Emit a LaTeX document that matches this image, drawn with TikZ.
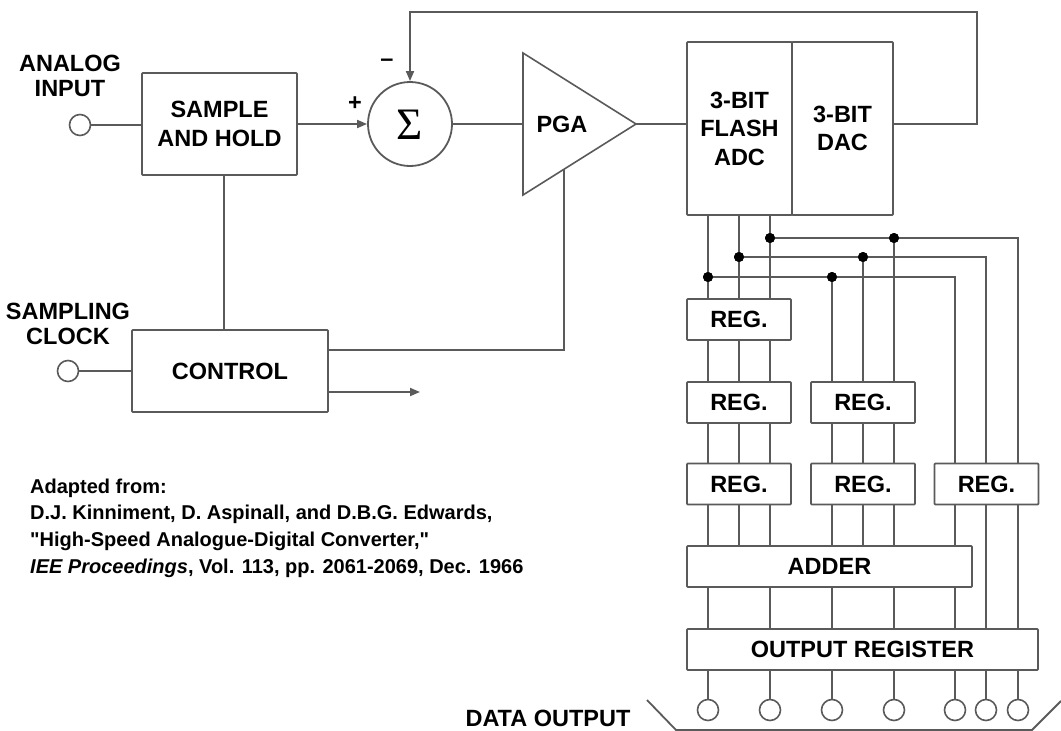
\documentclass[tikz,border=0pt]{standalone}
\usepackage{fontspec}
\setmainfont{Liberation Sans}
\newfontfamily\sigmafont{Liberation Serif}
\usetikzlibrary{arrows.meta}
\definecolor{wirec}{RGB}{90,90,90}
\newcommand\lblfont{\fontsize{23.5}{28.5}\selectfont\bfseries}
\newcommand\citefont{\fontsize{20}{26.7}\selectfont\bfseries}
\begin{document}
\begin{tikzpicture}[x=1pt,y=-1pt,
  wire/.style={draw=wirec, line width=1.8pt},
  blk/.style={draw=wirec, line width=1.8pt, fill=white, font=\lblfont, align=center, inner sep=0pt, rounded corners=0.8pt},
  lab/.style={font=\lblfont, align=center, inner sep=0pt},
  term/.style={circle, draw=wirec, line width=1.6pt, fill=white, minimum size=21pt, inner sep=0pt},
  jdot/.style={circle, fill=black, minimum size=10pt, inner sep=0pt},
  arr/.style={-{Triangle[length=10pt,width=8pt]}}
]
\useasboundingbox (0,0) rectangle (1061,731);

% ---------- analog path ----------
\node[lab] (ailab) at (70,76) {ANALOG\\[-3pt]INPUT};
\node[term] (aic) at (80,125) {};
\node[blk, minimum width=155pt, minimum height=102pt] (sh) at (219.5,124) {SAMPLE\\AND HOLD};
\node[circle, draw=wirec, line width=1.8pt, minimum size=84pt, inner sep=0pt] (sum) at (410,124) {};
\node[font=\sigmafont\fontsize{45}{45}\selectfont, inner sep=0pt] (sig) at (410,125) {Σ};
\node[lab] (plus) at (355,104) {+};
\node[lab] (minus) at (387,63) {–};

\coordinate (pgaT) at (523,53);
\coordinate (pgaB) at (523,195);
\coordinate (pgaA) at (636,124);
\coordinate (pgaI) at (523,124);
\coordinate (pgaC) at (564,169.2);
\draw[wire, fill=white, line width=1.6pt, line join=miter] (pgaT) -- (pgaA) -- (pgaB) -- cycle;
\node[lab] (pga) at (562,124) {PGA};

\node[blk, minimum width=105pt, minimum height=173pt] (adc) at (739.5,128.5) {3-BIT\\FLASH\\ADC};
\node[blk, minimum width=101pt, minimum height=173pt] (dac) at (842.5,128.5) {3-BIT\\DAC};

\draw[wire] (aic) -- (sh.west |- aic);
\draw[wire, arr] (sh.east |- sum) -- (sum.west);
\draw[wire] (sum.east) -- (pgaI);
\draw[wire] (pgaA) -- (adc.west |- pgaA);
\coordinate (fbR) at (977,12);
\draw[wire, arr] (dac.east |- pgaA) -- (fbR |- pgaA) -- (fbR) -- (sum.north |- fbR) -- (sum.north);

% ---------- control ----------
\node[lab] (sclab) at (68,324) {SAMPLING\\[-3pt]CLOCK};
\node[blk, minimum width=196pt, minimum height=82pt] (ctl) at (230,371) {CONTROL};
\node[term] (scc) at (68,371) {};
\draw[wire] (scc) -- (ctl.west |- scc);
\coordinate (shx) at (224,0);
\draw[wire] (sh.south -| shx) -- (ctl.north -| shx);
\coordinate (ctlL) at (0,350);
\draw[wire] (ctl.east |- ctlL) -- (pgaC |- ctlL) -- (pgaC);
\coordinate (ctlO) at (420,392);
\draw[wire, arr] (ctl.east |- ctlO) -- (ctlO);

% ---------- citation ----------
\node[font=\citefont, align=left, anchor=west, inner sep=0pt] (cite) at (30,528)
 {Adapted from:\\D.J. Kinniment, D. Aspinall, and D.B.G. Edwards,\\\textquotedbl High-Speed Analogue-Digital Converter,\textquotedbl\\\textit{IEE Proceedings}, Vol. 113, pp. 2061-2069, Dec. 1966};

% ---------- digital section ----------
\coordinate (xa1) at (708,0); \coordinate (xa2) at (739,0); \coordinate (xa3) at (770,0);
\coordinate (xb1) at (832,0); \coordinate (xb2) at (863,0); \coordinate (xb3) at (894,0);
\coordinate (xc1) at (955,0); \coordinate (xc2) at (986,0); \coordinate (xc3) at (1018,0);

\node[blk, minimum width=104pt, minimum height=41pt] (ra1) at (739,319.5) {REG.};
\node[blk, minimum width=104pt, minimum height=41pt] (ra2) at (739,402.5) {REG.};
\node[blk, minimum width=104pt, minimum height=41pt] (rb2) at (863,402.5) {REG.};
\node[blk, minimum width=104pt, minimum height=41pt] (ra3) at (739,484) {REG.};
\node[blk, minimum width=104pt, minimum height=41pt] (rb3) at (863,484) {REG.};
\node[blk, minimum width=104pt, minimum height=41pt] (rc3) at (986.5,484) {REG.};
\node[blk, minimum width=285pt, minimum height=41pt] (add) at (829.5,566.5) {ADDER};
\node[blk, minimum width=351pt, minimum height=41pt] (outr) at (862.5,649.5) {OUTPUT REGISTER};

% junction rows
\coordinate (y1) at (0,238); \coordinate (y2) at (0,257); \coordinate (y3) at (0,277);
\node[jdot] (d1a) at (xa3 |- y1) {};
\node[jdot] (d1b) at (xb3 |- y1) {};
\node[jdot] (d2a) at (xa2 |- y2) {};
\node[jdot] (d2b) at (xb2 |- y2) {};
\node[jdot] (d3a) at (xa1 |- y3) {};
\node[jdot] (d3b) at (xb1 |- y3) {};

\foreach \c in {xa1,xa2,xa3}{
  \draw[wire] (adc.south -| \c) -- (ra1.north -| \c);
  \draw[wire] (ra1.south -| \c) -- (ra2.north -| \c);
  \draw[wire] (ra2.south -| \c) -- (ra3.north -| \c);
  \draw[wire] (ra3.south -| \c) -- (add.north -| \c);
}
\foreach \c in {xb1,xb2,xb3}{
  \draw[wire] (rb2.south -| \c) -- (rb3.north -| \c);
  \draw[wire] (rb3.south -| \c) -- (add.north -| \c);
}
\draw[wire] (d1a.center) -- (xc3 |- y1) -- (rc3.north -| xc3);
\draw[wire] (d2a.center) -- (xc2 |- y2) -- (rc3.north -| xc2);
\draw[wire] (d3a.center) -- (xc1 |- y3) -- (rc3.north -| xc1);
\draw[wire] (d1b.center) -- (rb2.north -| xb3);
\draw[wire] (d2b.center) -- (rb2.north -| xb2);
\draw[wire] (d3b.center) -- (rb2.north -| xb1);
\draw[wire] (rc3.south -| xc1) -- (add.north -| xc1);
\draw[wire] (rc3.south -| xc2) -- (outr.north -| xc2);
\draw[wire] (rc3.south -| xc3) -- (outr.north -| xc3);
\foreach \c in {xa1,xa3,xb1,xb3,xc1}{
  \draw[wire] (add.south -| \c) -- (outr.north -| \c);
}
% dots on top of the wires
\foreach \d in {d1a,d1b,d2a,d2b,d3a,d3b}{ \fill (\d.center) circle (5pt); }

% output terminals
\coordinate (yo) at (0,710);
\foreach \c/\n in {xa1/o1,xa3/o2,xb1/o3,xb3/o4,xc1/o5,xc2/o6,xc3/o7}{
  \node[term] (\n) at (\c |- yo) {};
  \draw[wire] (outr.south -| \c) -- (\n.north);
}
\coordinate (brL) at (647,700); \coordinate (brBL) at (676,730);
\coordinate (brBR) at (1032,730); \coordinate (brR) at (1061,701);
\draw[wire] (brL) -- (brBL) -- (brBR) -- (brR);
\node[font=\lblfont, inner sep=0pt, anchor=base] (dolab) at (548,726) {DATA OUTPUT};
\end{tikzpicture}
\end{document}
